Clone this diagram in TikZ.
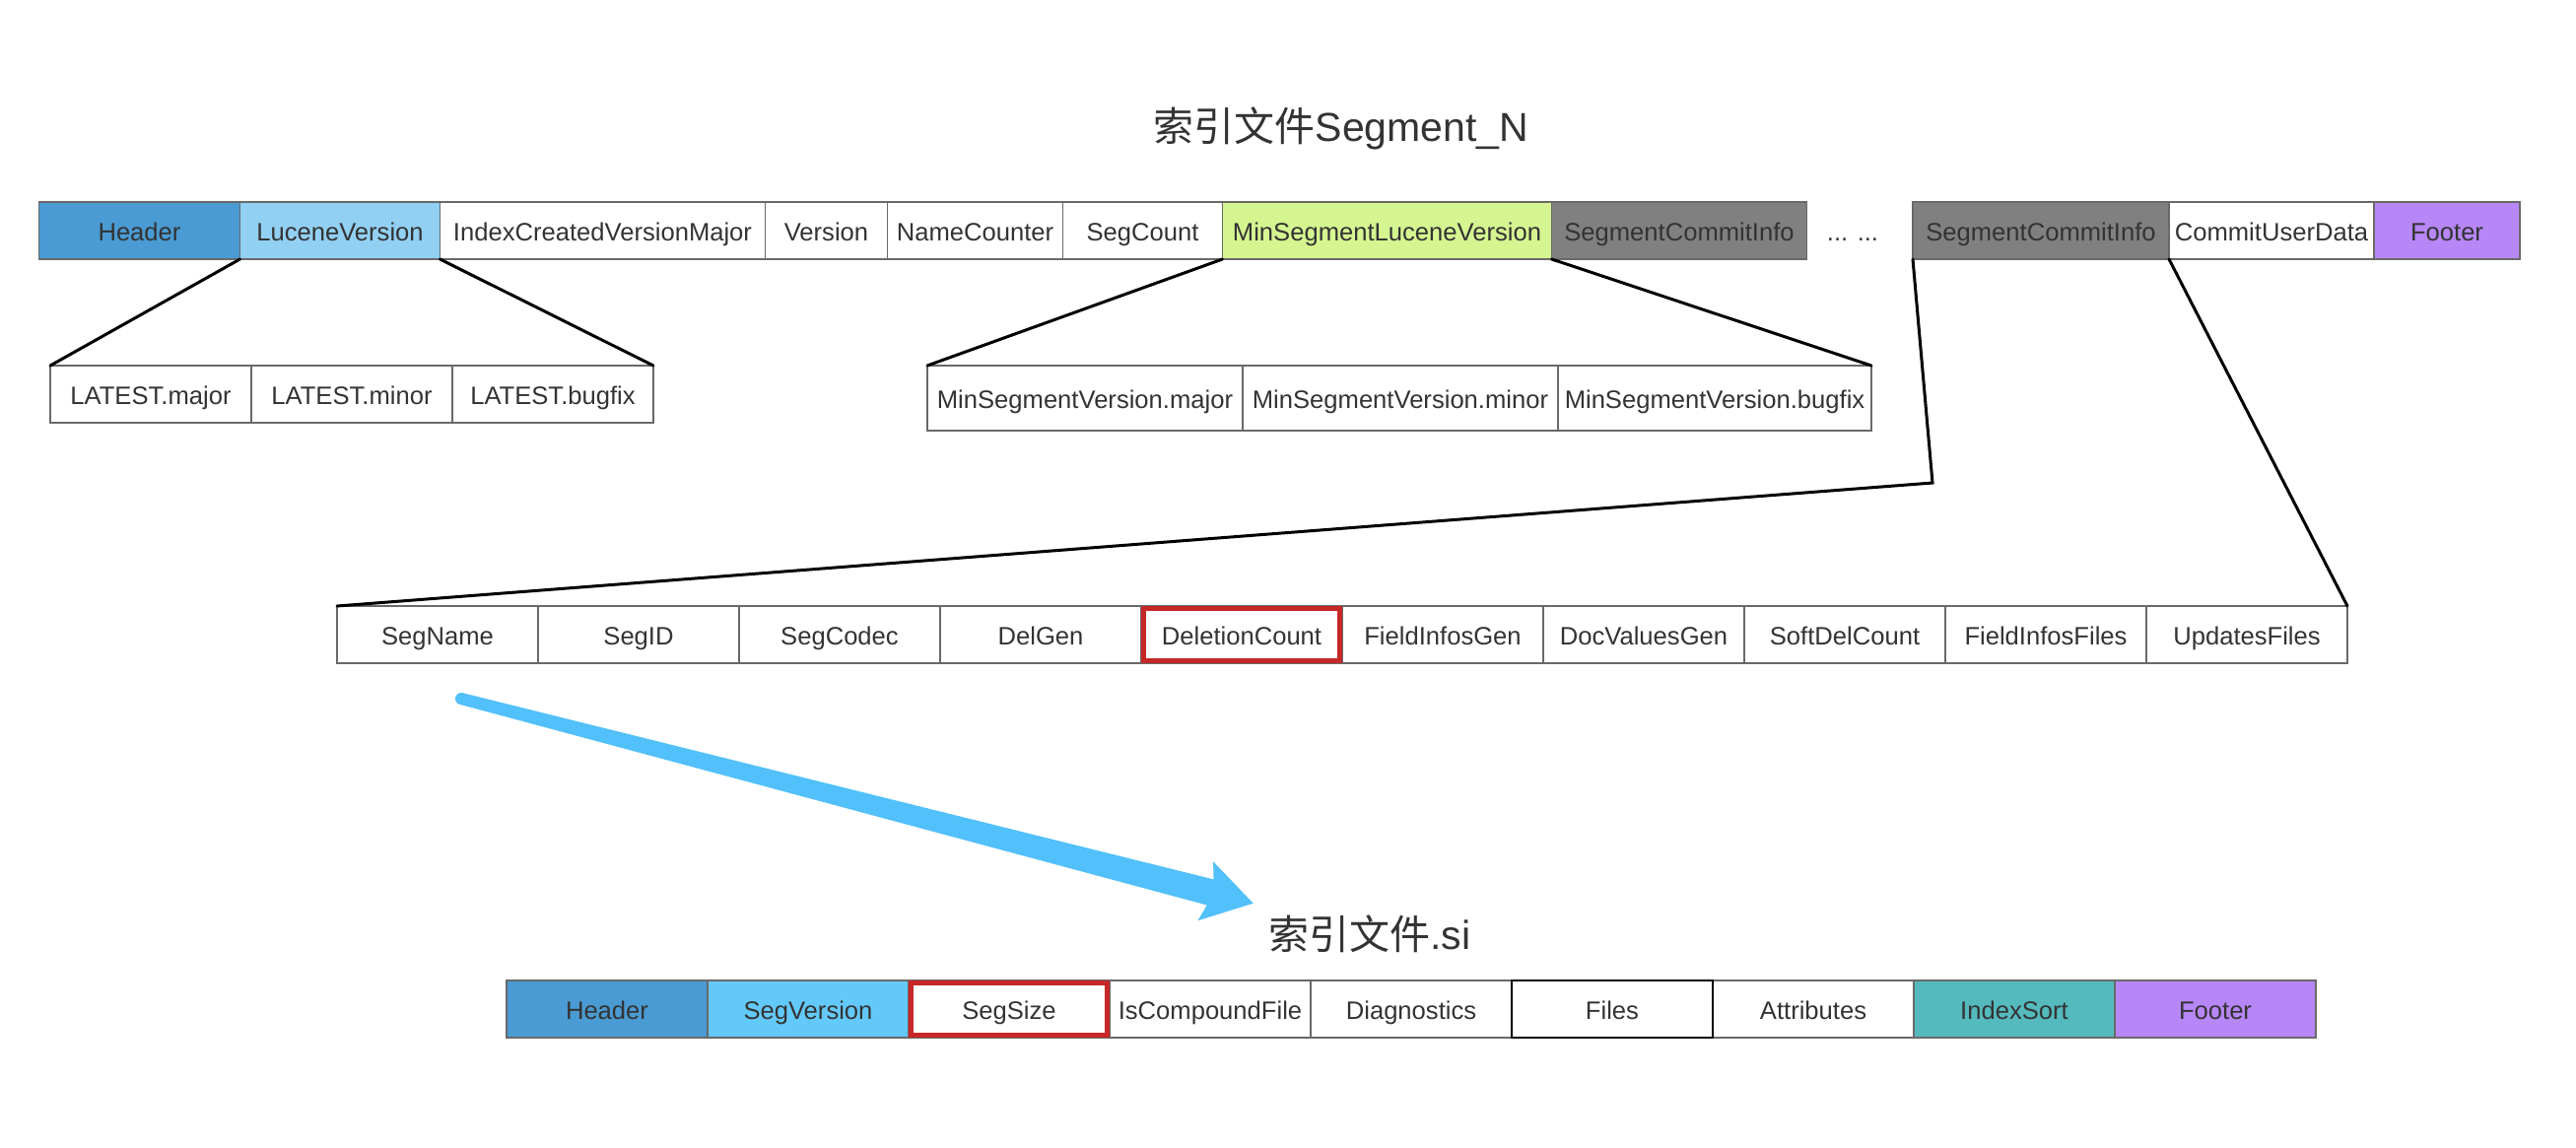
\documentclass[tikz,border=0pt]{standalone}
\usepackage{fontspec}
\setmainfont{Liberation Sans}
\newfontfamily\cjk{Noto Sans CJK SC}
\usepackage{tikz}
\usetikzlibrary{positioning}
\usetikzlibrary{calc}
\definecolor{txtgray}{RGB}{51, 51, 51}
\definecolor{cellgray}{RGB}{105, 105, 105}
\definecolor{hdrblue}{RGB}{74, 155, 211}
\definecolor{lucblue}{RGB}{146, 208, 243}
\definecolor{verblue}{RGB}{99, 201, 250}
\definecolor{mingreen}{RGB}{213, 245, 145}
\definecolor{scigray}{RGB}{128, 128, 128}
\definecolor{footpurple}{RGB}{183, 134, 247}
\definecolor{sortteal}{RGB}{84, 186, 190}
\definecolor{hired}{RGB}{198, 40, 40}
\definecolor{arrowblue}{RGB}{82, 192, 250}
\tikzset{cell/.style = {draw=cellgray, line width=0.7pt, minimum width=#1, minimum height=29pt,
                        inner sep=0pt, outer sep=0pt, text=txtgray,
                        text height=11.5pt, text depth=1.5pt,
                        font=\fontsize{12.8}{14}\selectfont},
         cell/.default = 102pt,
         title/.style = {anchor=base, inner sep=0pt, text=txtgray,
                         font=\fontsize{20.5}{24}\selectfont},
         hilite/.style = {draw=hired, line width=2.5pt},
         link/.style = {line width=1.5pt, line cap=round}}

\begin{document}
\begin{tikzpicture}[x=0.5pt, y=-0.5pt]
  \useasboundingbox (0, 0) rectangle (2614, 1164);

  \node [title] (segn) at (1361, 143) {{\cjk 索引文件}Segment\_N};

  % top row
  \node [cell, fill=hdrblue, anchor=west] (hdr) at (39.5, 234) {Header};
  \node [cell=101.5pt, fill=lucblue, right=0pt of hdr] (lucv) {LuceneVersion};
  \node [cell=165pt, right=0pt of lucv] (icvm) {IndexCreatedVersionMajor};
  \node [cell=62pt, right=0pt of icvm] (ver) {Version};
  \node [cell=89pt, right=0pt of ver] (namec) {NameCounter};
  \node [cell=81pt, right=0pt of namec] (segc) {SegCount};
  \node [cell=167pt, fill=mingreen, right=0pt of segc] (minslv) {MinSegmentLuceneVersion};
  \node [cell=129.5pt, fill=scigray, right=0pt of minslv] (scia) {SegmentCommitInfo};
  \node [text=txtgray, text height=11.5pt, text depth=1.5pt,
         font=\fontsize{12.8}{14}\selectfont] (dots) at (1880, 234) {... ...};
  \node [cell=130pt, fill=scigray, anchor=west] (scib) at (1941, 234) {SegmentCommitInfo};
  \node [cell=104pt, right=0pt of scib] (cud) {CommitUserData};
  \node [cell=74pt, fill=footpurple, right=0pt of cud] (foot) {Footer};

  % LuceneVersion
  \node [cell, anchor=west] (lmaj) at (51, 400) {LATEST.major};
  \node [cell, right=0pt of lmaj] (lmin) {LATEST.minor};
  \node [cell, right=0pt of lmin] (lbug) {LATEST.bugfix};

  % MinSegmentLuceneVersion
  \node [cell=160pt, minimum height=33pt, anchor=west] (msmaj) at (941, 404) {MinSegmentVersion.major};
  \node [cell=160pt, minimum height=33pt, right=0pt of msmaj] (msmin) {MinSegmentVersion.minor};
  \node [cell=159pt, minimum height=33pt, right=0pt of msmin] (msbug) {MinSegmentVersion.bugfix};

  % SegmentCommitInfo
  \node [cell, anchor=west] (sname) at (342, 644) {SegName};
  \node [cell, right=0pt of sname] (sid) {SegID};
  \node [cell, right=0pt of sid] (scodec) {SegCodec};
  \node [cell, right=0pt of scodec] (delgen) {DelGen};
  \node [cell, right=0pt of delgen] (delcnt) {DeletionCount};
  \node [cell, right=0pt of delcnt] (figen) {FieldInfosGen};
  \node [cell, right=0pt of figen] (dvgen) {DocValuesGen};
  \node [cell, right=0pt of dvgen] (sdc) {SoftDelCount};
  \node [cell, right=0pt of sdc] (fif) {FieldInfosFiles};
  \node [cell, right=0pt of fif] (updf) {UpdatesFiles};
  \draw [hilite] ([shift={(1.25pt,-1.25pt)}]delcnt.north west) rectangle ([shift={(-1.25pt,1.25pt)}]delcnt.south east);

  % .si
  \node [title] (si) at (1390, 963) {{\cjk 索引文件}.si};
  \node [cell, fill=hdrblue, anchor=west] (shdr) at (514, 1024) {Header};
  \node [cell, fill=verblue, right=0pt of shdr] (sver) {SegVersion};
  \node [cell, right=0pt of sver] (ssize) {SegSize};
  \node [cell, right=0pt of ssize] (icf) {IsCompoundFile};
  \node [cell, right=0pt of icf] (diag) {Diagnostics};
  \node [cell, right=0pt of diag] (files) {Files};
  \node [cell, right=0pt of files] (attr) {Attributes};
  \node [cell, fill=sortteal, right=0pt of attr] (isort) {IndexSort};
  \node [cell, fill=footpurple, right=0pt of isort] (sfoot) {Footer};
  \draw [hilite] ([shift={(1.25pt,-1.25pt)}]ssize.north west) rectangle ([shift={(-1.25pt,1.25pt)}]ssize.south east);
  \draw [line width=1pt] (files.north west) rectangle (files.south east);

  \draw [link] (lucv.south west) -- (lmaj.north west);
  \draw [link] (lucv.south east) -- (lbug.north east);
  \draw [link] (minslv.south west) -- (msmaj.north west);
  \draw [link] (minslv.south east) -- (msbug.north east);
  \coordinate (bend) at (1961, 490);
  \draw [link] (scib.south west) -- (bend) -- (sname.north west);
  \draw [link] (scib.south east) -- (updf.north east);

  % arrow to .si
  \coordinate (arrtail) at (468, 709);
  \coordinate (arrtip) at (1271.7, 916.7);
  \coordinate (arrbase) at ($(arrtip)!22.5pt!(arrtail)$);
  \coordinate (arrbarb) at ($(arrtip)!25pt!(arrtail)$);
  \fill [arrowblue] ($(arrtail)!3pt!90:(arrtip)$) -- ($(arrbase)!6.75pt!90:(arrtip)$)
        -- ($(arrbarb)!15.5pt!90:(arrtip)$) -- (arrtip) -- ($(arrbarb)!15.5pt!-90:(arrtip)$)
        -- ($(arrbase)!6.75pt!-90:(arrtip)$) -- ($(arrtail)!3pt!-90:(arrtip)$) -- cycle;
  \fill [arrowblue] (arrtail) circle [radius=3pt];
\end{tikzpicture}
\end{document}
